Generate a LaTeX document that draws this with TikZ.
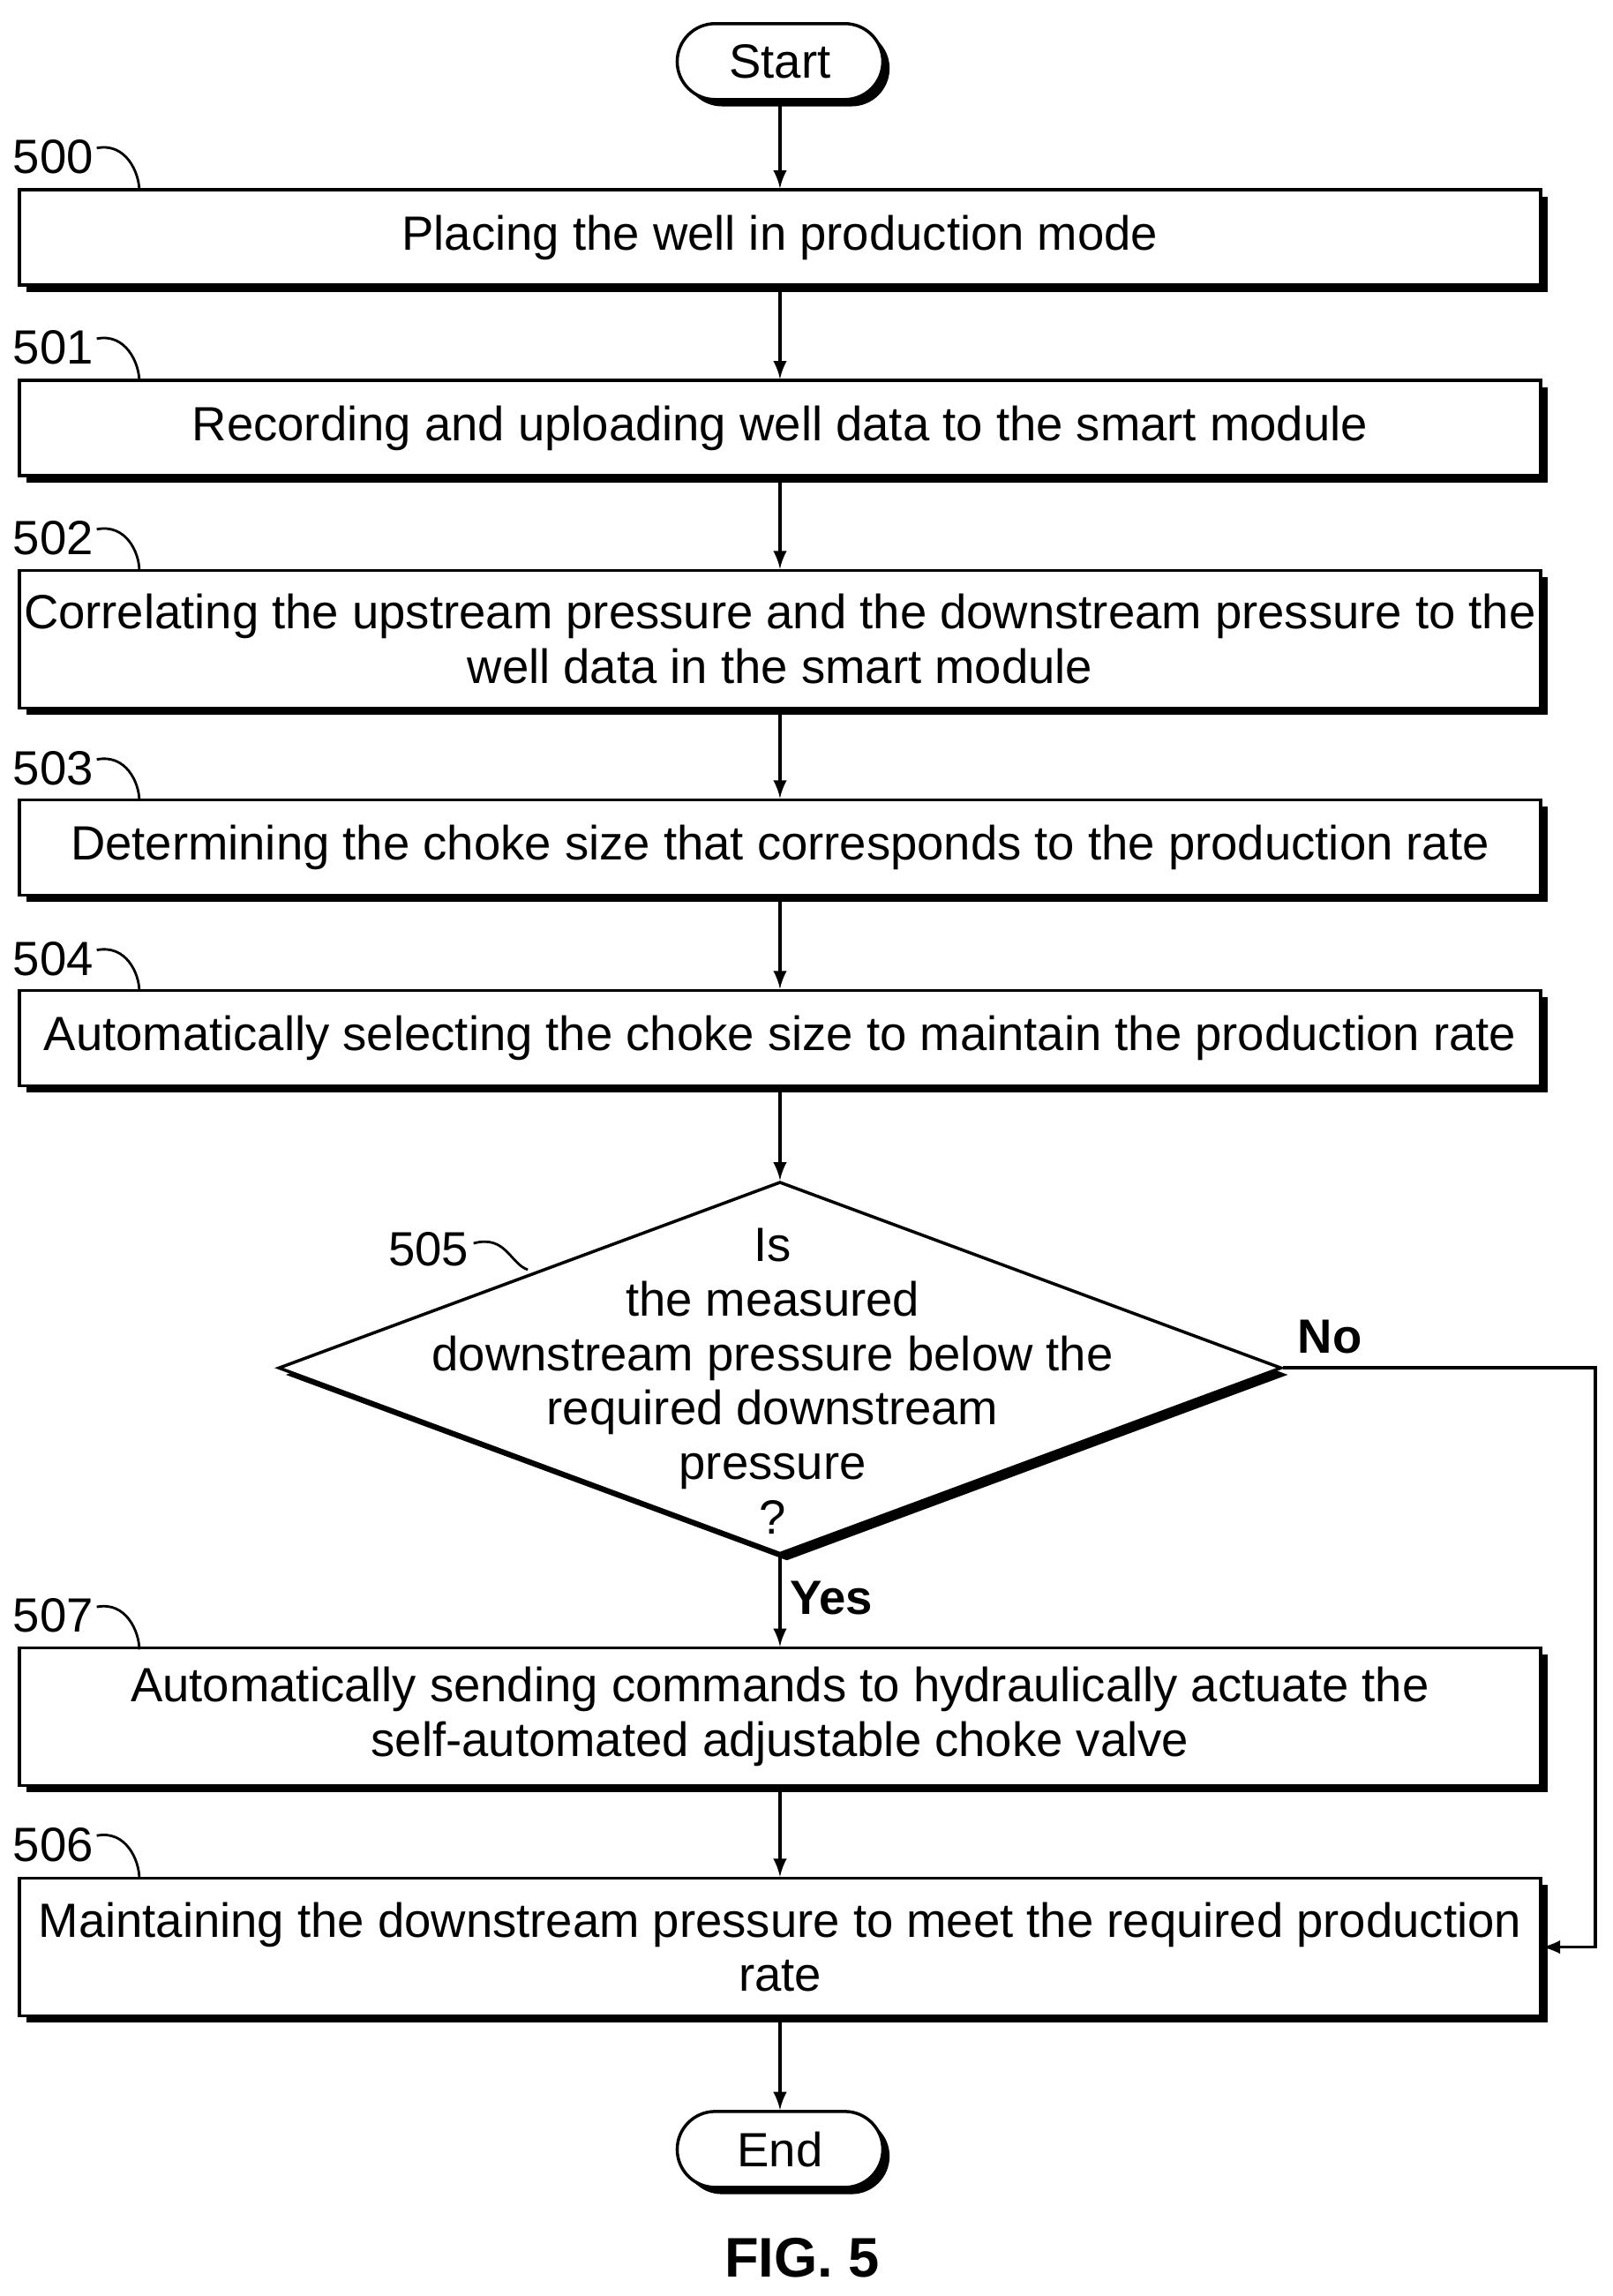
\documentclass[tikz,border=0pt]{standalone}
\usepackage{fontspec}
\setmainfont{Liberation Sans}
\usetikzlibrary{arrows,shapes.geometric,shadows}
\usetikzlibrary{positioning}
\tikzset{>=latex}

\begin{document}
\begin{tikzpicture}[x=0.01662cm,y=-0.01662cm,
	shd/.style={drop shadow={shadow xshift=2.2pt,shadow yshift=-2.2pt,opacity=1,fill=black}},
	box/.style={draw,line width=1pt,fill=white,shd,minimum width=17.24cm,align=center,inner sep=0pt,font=\fontsize{15.5}{17.6}\selectfont},
	term/.style={draw,line width=1pt,fill=white,shd,rounded corners=0.43cm,minimum width=2.33cm,minimum height=0.86cm,font=\fontsize{15.5}{17.6}\selectfont},
	tag/.style={font=\fontsize{15.5}{17.6}\selectfont,inner sep=0pt},
	bold/.style={font=\bfseries\fontsize{15.5}{17.6}\selectfont,inner sep=0pt},
	flow/.style={->,line width=1pt}]
	\useasboundingbox (0,0) rectangle (1100,1566);
	% terminals and steps
	\node[term] (start) at (532,42) {Start};
	\node[box,minimum height=1.08cm] (s500) at (532,162) {Placing the well in production mode};
	\node[box,minimum height=1.08cm] (s501) at (532,292) {Recording and uploading well data to the smart module};
	\node[box,minimum height=1.56cm] (s502) at (532,436) {Correlating the upstream pressure and the downstream pressure to the\\well data in the smart module};
	\node[box,minimum height=1.08cm] (s503) at (532,578) {Determining the choke size that corresponds to the production rate};
	\node[box,minimum height=1.08cm] (s504) at (532,708) {Automatically selecting the choke size to maintain the production rate};
	\node[draw,diamond,line width=1pt,fill=white,shd,aspect=2.7,minimum width=11.37cm,minimum height=4.22cm,inner sep=0pt] (s505) at (532,933) {};
	\node[align=center,font=\fontsize{15.5}{17.6}\selectfont] at (527,942) {Is\\the measured\\downstream pressure below the\\required downstream\\pressure\\?};
	\node[box,minimum height=1.56cm] (s507) at (532,1171) {Automatically sending commands to hydraulically actuate the\\self-automated adjustable choke valve};
	\node[box,minimum height=1.56cm] (s506) at (532,1328) {Maintaining the downstream pressure to meet the required production\\rate};
	\node[term] (end) at (532,1466) {End};
	\node[font=\bfseries\fontsize{18}{20}\selectfont] (fig) at (547,1540) {FIG. 5};
	% reference numerals
	\foreach \n/\y in {500/107,501/237,502/367,503/524,504/654,507/1102,506/1258}
		\node[tag,anchor=east] (l\n) at (64,\y) {\n};
	\foreach \n/\y in {500/130,501/260,502/389,503/546,504/676,507/1125,506/1281}
		\draw[line width=0.8pt] (l\n.east) ++(2,-6) .. controls +(20,-4) and +(0,-12) .. (95,\y);
	\node[tag,anchor=east] (l505) at (320,852) {505};
	\draw[line width=0.8pt] (l505.east) ++(3,-4) .. controls +(22,-6) and +(-12,-4) .. (360,866);
	% connectors
	\draw[flow] (start) -- (s500);
	\draw[flow] (s500) -- (s501);
	\draw[flow] (s501) -- (s502);
	\draw[flow] (s502) -- (s503);
	\draw[flow] (s503) -- (s504);
	\draw[flow] (s504) -- (s505);
	\draw[flow] (s505.south) -- (s507);
	\draw[flow] (s507) -- (s506);
	\draw[flow] (s506) -- (end);
	\coordinate (c1) at (1088,933);
	\coordinate (c2) at (1088,1328);
	\draw[flow] (s505.east) -- (c1) -- (c2) -- (s506.east);
	\node[bold] at (907,912) {No};
	\node[bold] at (567,1090) {Yes};
\end{tikzpicture}
\end{document}
